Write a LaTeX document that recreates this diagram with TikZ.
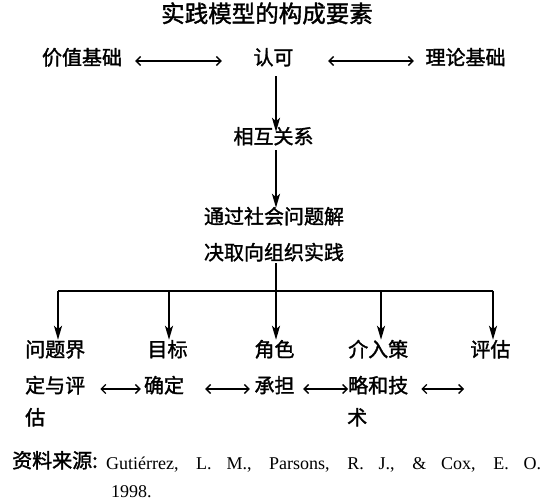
\documentclass[tikz,border=0pt]{standalone}
\usepackage{fontspec}
\setmainfont{Liberation Serif}
\newfontfamily\cjk[FakeBold=1.6]{Noto Sans CJK SC}
\usetikzlibrary{arrows.meta}
\tikzset{
  lbl/.style={inner sep=0pt, font=\cjk\fontsize{20pt}{20pt}\selectfont, text height=0.88em, text depth=0.12em},
  ttl/.style={inner sep=0pt, font=\cjk\fontsize{23.5pt}{23.5pt}\selectfont, text height=0.88em, text depth=0.12em},
  harrow/.style={line width=1.3pt, {Straight Barb[length=4.5pt,width=9pt]}-{Straight Barb[length=4.5pt,width=9pt]}},
  varrow/.style={line width=2.2pt, -{Stealth[length=14pt,width=8pt,inset=3.5pt]}},
  busline/.style={line width=2.2pt},
  latin/.style={inner sep=0pt, anchor=west, font=\fontsize{18pt}{18pt}\selectfont}
}
\begin{document}
\begin{tikzpicture}[x=1pt,y=-1pt]
\useasboundingbox (0,0) rectangle (553,502);
% title
\node[ttl] (title) at (267,18.5) {实践模型的构成要素};
% row 2
\node[lbl] (jiazhi) at (82,61) {价值基础};
\node[lbl] (renke) at (273.5,61) {认可};
\node[lbl] (lilun) at (465.5,61) {理论基础};
\draw[harrow, shorten <=13pt, shorten >=31.5pt] (jiazhi) -- (renke);
\draw[harrow, shorten <=34.5pt, shorten >=11.5pt] (renke) -- (lilun);
% middle
\node[lbl] (xianghu) at (273.5,140) {相互关系};
\node[lbl] (tongguo) at (274,220) {通过社会问题解};
\node[lbl] (juequ) at (274,256) {决取向组织实践};
\coordinate (vx) at (276,0);
\draw[varrow, shorten <=10pt, shorten >=3pt] (renke.south -| vx) -- (xianghu.north -| vx);
\draw[varrow, shorten <=5pt, shorten >=7pt] (xianghu.south -| vx) -- (tongguo.north -| vx);
% bus
\coordinate (bus) at (276,290.6);
\coordinate (b1) at (58,290.6);
\coordinate (b2) at (169,290.6);
\coordinate (b4) at (381,290.6);
\coordinate (b5) at (493,290.6);
\draw[busline, shorten <=2pt] (juequ.south -| bus) -- (bus);
\draw[busline] (b1) -- (b5);
% bottom row
\node[lbl, anchor=west] (wenti) at (25,353) {问题界};
\node[lbl] (mubiao) at (167.5,353) {目标};
\node[lbl] (jiaose) at (274.5,353) {角色};
\node[lbl, anchor=west] (jieru) at (348,353) {介入策};
\node[lbl] (pinggu) at (490.5,353) {评估};
\draw[varrow, shorten >=8pt] (b1) -- (wenti.north -| b1);
\draw[varrow, shorten >=8pt] (b2) -- (mubiao.north -| b2);
\draw[varrow, shorten >=8pt] (bus) -- (jiaose.north -| bus);
\draw[varrow, shorten >=8pt] (b4) -- (jieru.north -| b4);
\draw[varrow, shorten >=8pt] (b5) -- (pinggu.north -| b5);
% second line
\node[lbl, anchor=west] (dingyu) at (25,389) {定与评};
\node[lbl] (queding) at (164,389) {确定};
\node[lbl] (chengdan) at (274.5,389) {承担};
\node[lbl, anchor=west] (luehe) at (348,389) {略和技};
\coordinate (endarrow) at (464,389);
\draw[harrow, shorten <=15pt, shorten >=3pt] (dingyu) -- (queding);
\draw[harrow, shorten <=21pt, shorten >=4.5pt] (queding) -- (chengdan);
\draw[harrow, shorten <=8.5pt] (chengdan) -- (luehe);
\draw[harrow, shorten <=13pt] (luehe) -- (endarrow);
% third line
\node[lbl, anchor=west] (gu) at (25,421) {估};
\node[lbl, anchor=west] (shu) at (347,421) {术};
% source
\node[lbl, anchor=west] (srclbl) at (12,464) {资料来源:};
\node[latin] (srctext) at (106,465)
  {\makebox[435pt][s]{Guti\'errez, L. M., Parsons, R. J., \& Cox, E. O.}};
\node[latin] (year) at (111,492) {1998.};
\end{tikzpicture}
\end{document}
